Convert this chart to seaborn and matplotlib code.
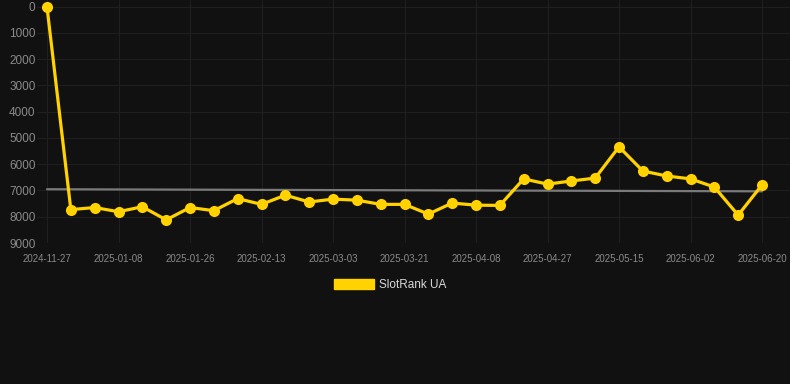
import matplotlib
matplotlib.use("Agg")
import matplotlib.pyplot as plt
import matplotlib.patches as mpatches
import seaborn as sns
import numpy as np
import pandas as pd

dates = ["2024-11-27", "2024-12-27", "2025-01-02", "2025-01-08", "2025-01-14",
         "2025-01-20", "2025-01-26", "2025-02-01", "2025-02-07", "2025-02-13",
         "2025-02-19", "2025-02-25", "2025-03-03", "2025-03-09", "2025-03-15",
         "2025-03-21", "2025-03-27", "2025-04-02", "2025-04-08", "2025-04-14",
         "2025-04-21", "2025-04-27", "2025-05-03", "2025-05-09", "2025-05-15",
         "2025-05-21", "2025-05-27", "2025-06-02", "2025-06-08", "2025-06-14",
         "2025-06-20"]
rank = [20, 7730, 7650, 7810, 7620, 8120, 7650, 7770, 7310, 7530,
        7180, 7440, 7330, 7370, 7530, 7530, 7900, 7480, 7560, 7570,
        6560, 6760, 6640, 6530, 5340, 6260, 6450, 6560, 6870, 7940,
        6790]
y_ticks = [0, 1000, 2000, 3000, 4000, 5000, 6000, 7000, 8000, 9000]
series_name = "SlotRank UA"

df = pd.DataFrame({"idx": np.arange(len(dates)), "date": dates, "rank": rank})

BG = "#111111"
GOLD = "#FFD200"
GRID = "#1f1f1f"
LABEL = "#8a8a8a"

sns.set_theme(style="dark")
plt.rcParams["font.family"] = ["Liberation Sans", "DejaVu Sans"]

fig = plt.figure(figsize=(7.9, 3.84), dpi=100, facecolor=BG)
ax = fig.add_axes([37 / 790, 1 - 243 / 384, (790 - 37) / 790, 243 / 384])
ax.set_facecolor(BG)

sns.regplot(data=df, x="idx", y="rank", scatter=False, ci=None, truncate=True,
            ax=ax, line_kws=dict(color="#7a7a7a", lw=1.6, zorder=2))
sns.lineplot(data=df, x="idx", y="rank", ax=ax, color=GOLD, lw=2.3,
             marker="o", markersize=8, markeredgewidth=0, zorder=3)

ppx = (762 - 47) / 30.0
ax.set_xlim(-(47 - 37) / ppx, 30 + (790 - 762) / ppx)
ppy = (243 - 6.5) / 9000.0
ax.set_ylim(9000, -6.5 / ppy)

xt = list(range(0, len(dates), 3))
ax.set_xticks(xt)
ax.set_xticklabels([dates[i] for i in xt])
ax.set_yticks(y_ticks)
ax.set_yticklabels([str(v) for v in y_ticks])

ax.grid(True, color=GRID, lw=0.8)
for s in ax.spines.values():
    s.set_visible(False)
ax.tick_params(axis="x", colors=GRID, length=6, width=0.8, labelcolor=LABEL,
               labelsize=7, pad=2)
ax.tick_params(axis="y", length=0, labelcolor=LABEL, labelsize=8.5, pad=1)
ax.set_xlabel("")
ax.set_ylabel("")

handle = mpatches.Patch(color=GOLD, label=series_name)
leg = fig.legend(handles=[handle], loc="center", bbox_to_anchor=(0.494, 1 - 285 / 384),
                 frameon=False, fontsize=8.5, handlelength=3.4, handleheight=1.0,
                 handletextpad=0.45)
for t in leg.get_texts():
    t.set_color("#d8d8d8")

fig.savefig("out.png", dpi=100, facecolor=BG)
